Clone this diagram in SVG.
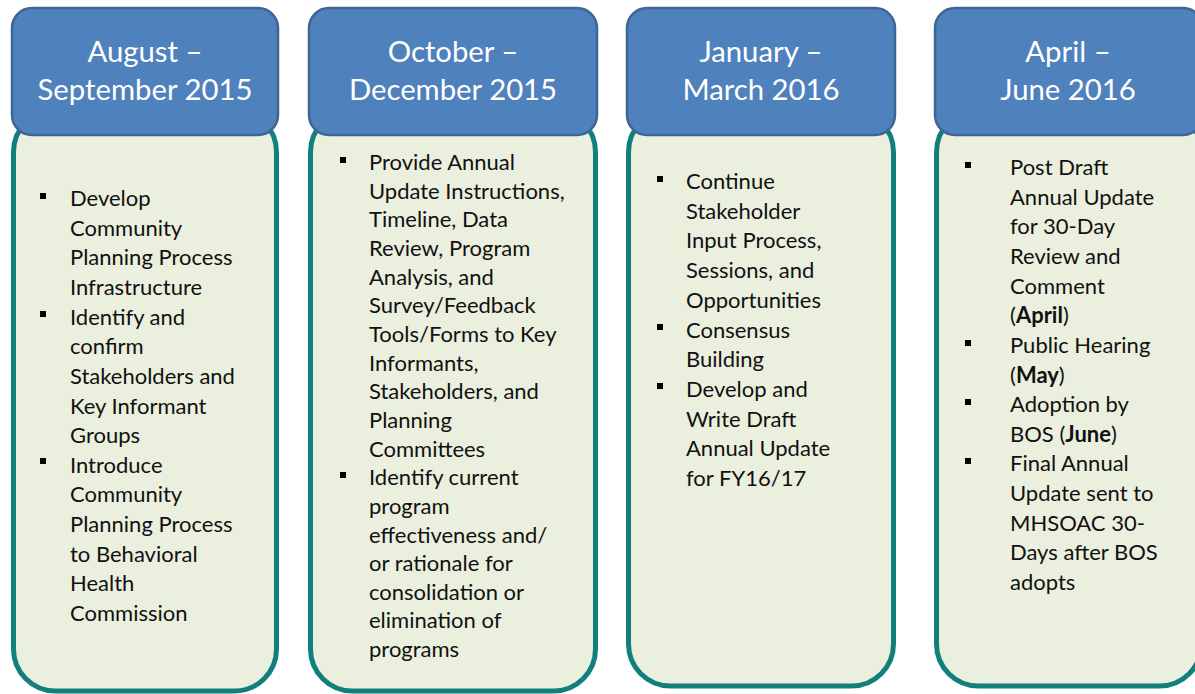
<svg xmlns="http://www.w3.org/2000/svg" width="1195" height="694" viewBox="0 0 1195 694">
<style>
.body{fill:#ebefdd;stroke:#11807c;stroke-width:5}
.head{fill:#4f81bd;stroke:#3d6595;stroke-width:2.5}
.ht{font-family:Lato,"Noto Sans",sans-serif;font-size:29.3px;fill:#ffffff;text-anchor:middle}
.bt{font-family:Lato,"Noto Sans",sans-serif;font-size:22px;fill:#111111}
.b{font-weight:bold}
.bul{fill:#000000}
</style>
<rect width="1195" height="694" fill="#ffffff"/>
<g id="col1">
<rect class="body" x="13.5" y="110" width="263" height="581" rx="42"/>
<rect class="head" x="12" y="8" width="266" height="127" rx="20"/>
<text class="ht" x="145" y="62">August –</text>
<text class="ht" x="145" y="100">September 2015</text>
<rect class="bul" x="40" y="193" width="6" height="6"/>
<rect class="bul" x="40" y="311" width="6" height="6"/>
<rect class="bul" x="40" y="458" width="6" height="6"/>
<text class="bt"><tspan x="70" y="206">Develop</tspan><tspan x="70" y="235.6">Community</tspan><tspan x="70" y="265.3">Planning Process</tspan><tspan x="70" y="294.9">Infrastructure</tspan><tspan x="70" y="324.6">Identify and</tspan><tspan x="70" y="354.2">confirm</tspan><tspan x="70" y="383.8">Stakeholders and</tspan><tspan x="70" y="413.5">Key Informant</tspan><tspan x="70" y="443.1">Groups</tspan><tspan x="70" y="472.8">Introduce</tspan><tspan x="70" y="502.4">Community</tspan><tspan x="70" y="532">Planning Process</tspan><tspan x="70" y="561.7">to Behavioral</tspan><tspan x="70" y="591.3">Health</tspan><tspan x="70" y="621">Commission</tspan></text>
</g>
<g id="col2">
<rect class="body" x="310.5" y="110" width="285" height="581" rx="42"/>
<rect class="head" x="309" y="8" width="288" height="127" rx="20"/>
<text class="ht" x="453" y="62">October –</text>
<text class="ht" x="453" y="100">December 2015</text>
<rect class="bul" x="340" y="157" width="6" height="6"/>
<rect class="bul" x="340" y="472" width="6" height="6"/>
<text class="bt"><tspan x="369" y="170">Provide Annual</tspan><tspan x="369" y="198.7">Update Instructions,</tspan><tspan x="369" y="227.3">Timeline, Data</tspan><tspan x="369" y="256">Review, Program</tspan><tspan x="369" y="284.6">Analysis, and</tspan><tspan x="369" y="313.3">Survey/Feedback</tspan><tspan x="369" y="341.9">Tools/Forms to Key</tspan><tspan x="369" y="370.6">Informants,</tspan><tspan x="369" y="399.2">Stakeholders, and</tspan><tspan x="369" y="427.9">Planning</tspan><tspan x="369" y="456.5">Committees</tspan><tspan x="369" y="485.2">Identify current</tspan><tspan x="369" y="513.8">program</tspan><tspan x="369" y="542.5">effectiveness and/</tspan><tspan x="369" y="571.1">or rationale for</tspan><tspan x="369" y="599.8">consolidation or</tspan><tspan x="369" y="628.4">elimination of</tspan><tspan x="369" y="657">programs</tspan></text>
</g>
<g id="col3">
<rect class="body" x="628.5" y="110" width="265" height="576" rx="42"/>
<rect class="head" x="627" y="8" width="268" height="127" rx="20"/>
<text class="ht" x="761" y="62">January –</text>
<text class="ht" x="761" y="100">March 2016</text>
<rect class="bul" x="657" y="176" width="6" height="6"/>
<rect class="bul" x="657" y="324" width="6" height="6"/>
<rect class="bul" x="657" y="383" width="6" height="6"/>
<text class="bt"><tspan x="686" y="189">Continue</tspan><tspan x="686" y="218.7">Stakeholder</tspan><tspan x="686" y="248.4">Input Process,</tspan><tspan x="686" y="278.1">Sessions, and</tspan><tspan x="686" y="307.8">Opportunities</tspan><tspan x="686" y="337.5">Consensus</tspan><tspan x="686" y="367.2">Building</tspan><tspan x="686" y="396.9">Develop and</tspan><tspan x="686" y="426.6">Write Draft</tspan><tspan x="686" y="456.3">Annual Update</tspan><tspan x="686" y="486">for FY16/17</tspan></text>
</g>
<g id="col4">
<rect class="body" x="936.5" y="110" width="265" height="576" rx="42"/>
<rect class="head" x="935" y="8" width="268" height="127" rx="20"/>
<text class="ht" x="1068" y="62">April –</text>
<text class="ht" x="1068" y="100">June 2016</text>
<rect class="bul" x="965" y="162" width="6" height="6"/>
<rect class="bul" x="965" y="340" width="6" height="6"/>
<rect class="bul" x="965" y="399" width="6" height="6"/>
<rect class="bul" x="965" y="458" width="6" height="6"/>
<text class="bt"><tspan x="1010" y="175">Post Draft</tspan><tspan x="1010" y="204.6">Annual Update</tspan><tspan x="1010" y="234.3">for 30-Day</tspan><tspan x="1010" y="263.9">Review and</tspan><tspan x="1010" y="293.6">Comment</tspan><tspan x="1010" y="323.2">(<tspan class="b">April</tspan>)</tspan><tspan x="1010" y="352.8">Public Hearing</tspan><tspan x="1010" y="382.5">(<tspan class="b">May</tspan>)</tspan><tspan x="1010" y="412.1">Adoption by</tspan><tspan x="1010" y="441.8">BOS (<tspan class="b">June</tspan>)</tspan><tspan x="1010" y="471.4">Final Annual</tspan><tspan x="1010" y="501">Update sent to</tspan><tspan x="1010" y="530.7">MHSOAC 30-</tspan><tspan x="1010" y="560.3">Days after BOS</tspan><tspan x="1010" y="590">adopts</tspan></text>
</g>
<g id="connectors"></g>
</svg>
